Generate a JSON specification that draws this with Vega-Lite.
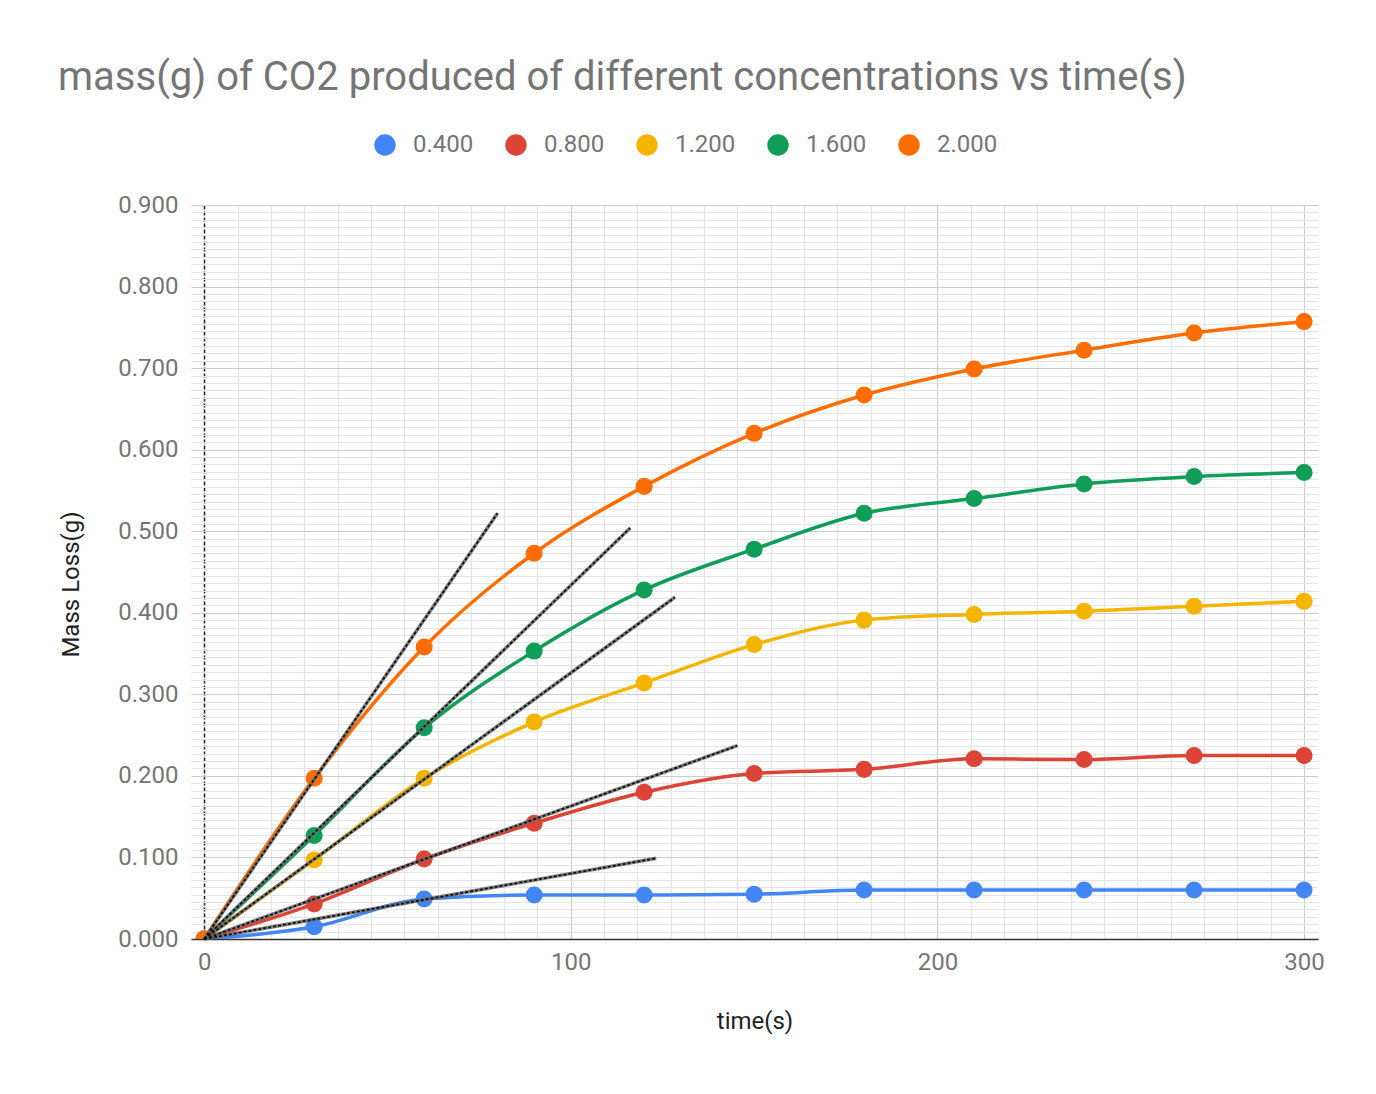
{
  "$schema": "https://vega.github.io/schema/vega-lite/v6.json",
  "width": 1127,
  "height": 734,
  "autosize": {"type": "none"},
  "padding": {"left": 191, "top": 205, "right": 58, "bottom": 155},
  "background": "white",
  "config": {"view": {"stroke": null}, "font": "Roboto"},
  "title": {
    "text": "mass(g) of CO2 produced of different concentrations vs time(s)",
    "anchor": "start",
    "frame": "group",
    "font": "Roboto",
    "fontSize": 40,
    "fontWeight": "normal",
    "color": "#757575",
    "dx": -133,
    "offset": 35
  },
  "datasets": {
    "series": [
      {"t": 0, "mass": 0, "conc": "0.400"},
      {"t": 30, "mass": 0.015, "conc": "0.400"},
      {"t": 60, "mass": 0.049, "conc": "0.400"},
      {"t": 90, "mass": 0.054, "conc": "0.400"},
      {"t": 120, "mass": 0.054, "conc": "0.400"},
      {"t": 150, "mass": 0.055, "conc": "0.400"},
      {"t": 180, "mass": 0.060, "conc": "0.400"},
      {"t": 210, "mass": 0.060, "conc": "0.400"},
      {"t": 240, "mass": 0.060, "conc": "0.400"},
      {"t": 270, "mass": 0.060, "conc": "0.400"},
      {"t": 300, "mass": 0.060, "conc": "0.400"},
      {"t": 0, "mass": 0, "conc": "0.800"},
      {"t": 30, "mass": 0.043, "conc": "0.800"},
      {"t": 60, "mass": 0.098, "conc": "0.800"},
      {"t": 90, "mass": 0.142, "conc": "0.800"},
      {"t": 120, "mass": 0.180, "conc": "0.800"},
      {"t": 150, "mass": 0.203, "conc": "0.800"},
      {"t": 180, "mass": 0.208, "conc": "0.800"},
      {"t": 210, "mass": 0.221, "conc": "0.800"},
      {"t": 240, "mass": 0.220, "conc": "0.800"},
      {"t": 270, "mass": 0.225, "conc": "0.800"},
      {"t": 300, "mass": 0.225, "conc": "0.800"},
      {"t": 0, "mass": 0, "conc": "1.200"},
      {"t": 30, "mass": 0.097, "conc": "1.200"},
      {"t": 60, "mass": 0.197, "conc": "1.200"},
      {"t": 90, "mass": 0.266, "conc": "1.200"},
      {"t": 120, "mass": 0.314, "conc": "1.200"},
      {"t": 150, "mass": 0.361, "conc": "1.200"},
      {"t": 180, "mass": 0.391, "conc": "1.200"},
      {"t": 210, "mass": 0.398, "conc": "1.200"},
      {"t": 240, "mass": 0.402, "conc": "1.200"},
      {"t": 270, "mass": 0.408, "conc": "1.200"},
      {"t": 300, "mass": 0.414, "conc": "1.200"},
      {"t": 0, "mass": 0, "conc": "1.600"},
      {"t": 30, "mass": 0.127, "conc": "1.600"},
      {"t": 60, "mass": 0.259, "conc": "1.600"},
      {"t": 90, "mass": 0.353, "conc": "1.600"},
      {"t": 120, "mass": 0.428, "conc": "1.600"},
      {"t": 150, "mass": 0.478, "conc": "1.600"},
      {"t": 180, "mass": 0.522, "conc": "1.600"},
      {"t": 210, "mass": 0.540, "conc": "1.600"},
      {"t": 240, "mass": 0.558, "conc": "1.600"},
      {"t": 270, "mass": 0.567, "conc": "1.600"},
      {"t": 300, "mass": 0.572, "conc": "1.600"},
      {"t": 0, "mass": 0, "conc": "2.000"},
      {"t": 30, "mass": 0.197, "conc": "2.000"},
      {"t": 60, "mass": 0.358, "conc": "2.000"},
      {"t": 90, "mass": 0.473, "conc": "2.000"},
      {"t": 120, "mass": 0.555, "conc": "2.000"},
      {"t": 150, "mass": 0.620, "conc": "2.000"},
      {"t": 180, "mass": 0.667, "conc": "2.000"},
      {"t": 210, "mass": 0.699, "conc": "2.000"},
      {"t": 240, "mass": 0.722, "conc": "2.000"},
      {"t": 270, "mass": 0.743, "conc": "2.000"},
      {"t": 300, "mass": 0.757, "conc": "2.000"}
    ],
    "tangents": [
      {"seg": "2.000", "t": 0, "mass": 0},
      {"seg": "2.000", "t": 80, "mass": 0.522},
      {"seg": "1.600", "t": 0, "mass": 0},
      {"seg": "1.600", "t": 116.2, "mass": 0.504},
      {"seg": "1.200", "t": 0, "mass": 0},
      {"seg": "1.200", "t": 128.4, "mass": 0.419},
      {"seg": "0.800", "t": 0, "mass": 0},
      {"seg": "0.800", "t": 145.4, "mass": 0.237},
      {"seg": "0.400", "t": 0, "mass": 0},
      {"seg": "0.400", "t": 123.3, "mass": 0.099}
    ]
  },
  "encoding": {
    "x": {
      "field": "t",
      "type": "quantitative",
      "scale": {"domain": [-3.6, 303.8], "nice": false, "zero": false},
      "axis": {
        "orient": "bottom",
        "values": [0, 9.091, 18.182, 27.273, 36.364, 45.455, 54.545, 63.636, 72.727, 81.818, 90.909,
                   100, 109.091, 118.182, 127.273, 136.364, 145.455, 154.545, 163.636, 172.727, 181.818, 190.909,
                   200, 209.091, 218.182, 227.273, 236.364, 245.455, 254.545, 263.636, 272.727, 281.818, 290.909, 300],
        "labelExpr": "datum.value % 100 === 0 ? format(datum.value, 'd') : ''",
        "labelOverlap": false,
        "labelFont": "Roboto",
        "labelFontSize": 24,
        "labelColor": "#757575",
        "labelPadding": 11,
        "ticks": false,
        "domain": true,
        "domainColor": "#333333",
        "domainWidth": 1.5,
        "grid": true,
        "gridColor": {"condition": [{"test": "datum.value === 0", "value": "#222222"}, {"test": "datum.value % 100 === 0", "value": "#cccccc"}], "value": "#e4e4e4"},
        "gridDash": {"condition": {"test": "datum.value === 0", "value": [4, 2]}, "value": []},
        "gridWidth": {"condition": {"test": "datum.value === 0", "value": 1.5}, "value": 1.2},
        "title": "time(s)",
        "titleFont": "Roboto",
        "titleFontSize": 24,
        "titleFontWeight": "normal",
        "titleColor": "#222222",
        "titlePadding": 35
      }
    },
    "y": {
      "field": "mass",
      "type": "quantitative",
      "scale": {"domain": [0, 0.9], "nice": false},
      "axis": {
        "orient": "left",
        "values": [0, 0.00909, 0.01818, 0.02727, 0.03636, 0.04545, 0.05455, 0.06364, 0.07273, 0.08182, 0.09091,
                   0.1, 0.10909, 0.11818, 0.12727, 0.13636, 0.14545, 0.15455, 0.16364, 0.17273, 0.18182, 0.19091,
                   0.2, 0.20909, 0.21818, 0.22727, 0.23636, 0.24545, 0.25455, 0.26364, 0.27273, 0.28182, 0.29091,
                   0.3, 0.30909, 0.31818, 0.32727, 0.33636, 0.34545, 0.35455, 0.36364, 0.37273, 0.38182, 0.39091,
                   0.4, 0.40909, 0.41818, 0.42727, 0.43636, 0.44545, 0.45455, 0.46364, 0.47273, 0.48182, 0.49091,
                   0.5, 0.50909, 0.51818, 0.52727, 0.53636, 0.54545, 0.55455, 0.56364, 0.57273, 0.58182, 0.59091,
                   0.6, 0.60909, 0.61818, 0.62727, 0.63636, 0.64545, 0.65455, 0.66364, 0.67273, 0.68182, 0.69091,
                   0.7, 0.70909, 0.71818, 0.72727, 0.73636, 0.74545, 0.75455, 0.76364, 0.77273, 0.78182, 0.79091,
                   0.8, 0.80909, 0.81818, 0.82727, 0.83636, 0.84545, 0.85455, 0.86364, 0.87273, 0.88182, 0.89091,
                   0.9],
        "labelExpr": "abs(datum.value * 10 - round(datum.value * 10)) < 0.0001 ? format(datum.value, '.3f') : ''",
        "labelOverlap": false,
        "labelFont": "Roboto",
        "labelFontSize": 24,
        "labelColor": "#757575",
        "labelPadding": 13,
        "ticks": false,
        "domain": false,
        "grid": true,
        "gridColor": {"condition": {"test": "abs(datum.value * 10 - round(datum.value * 10)) < 0.0001", "value": "#cccccc"}, "value": "#e4e4e4"},
        "gridWidth": 1.2,
        "title": "Mass Loss(g)",
        "titleFont": "Roboto",
        "titleFontSize": 24,
        "titleFontWeight": "normal",
        "titleColor": "#222222",
        "titlePadding": 34,
        "titleY": 379
      }
    }
  },
  "layer": [
    {
      "data": {"name": "series"},
      "mark": {"type": "line", "interpolate": "monotone", "strokeWidth": 3.5, "clip": true},
      "encoding": {
        "color": {
          "field": "conc",
          "type": "nominal",
          "scale": {"domain": ["0.400", "0.800", "1.200", "1.600", "2.000"], "range": ["#4285F4", "#DB4437", "#F4B400", "#0F9D58", "#FF6D00"]},
          "legend": {
            "orient": "none",
            "legendX": 182,
            "legendY": -72,
            "direction": "horizontal",
            "columns": 5,
            "title": null,
            "symbolType": "circle",
            "symbolSize": 460,
            "symbolStrokeWidth": 0,
            "labelFont": "Roboto",
            "labelFontSize": 24,
            "labelColor": "#757575",
            "labelOffset": 16,
            "columnPadding": 30
          }
        }
      }
    },
    {
      "data": {"name": "series"},
      "mark": {"type": "point", "filled": true, "size": 290, "opacity": 1, "clip": true},
      "encoding": {
        "color": {"field": "conc", "type": "nominal", "legend": null}
      }
    },
    {
      "data": {"name": "tangents"},
      "mark": {"type": "line", "color": "#6a6a6a", "strokeWidth": 3.5, "opacity": 0.85},
      "encoding": {"detail": {"field": "seg"}}
    },
    {
      "data": {"name": "tangents"},
      "mark": {"type": "line", "color": "#111111", "strokeWidth": 1.8, "strokeDash": [3, 2]},
      "encoding": {"detail": {"field": "seg"}}
    }
  ]
}
